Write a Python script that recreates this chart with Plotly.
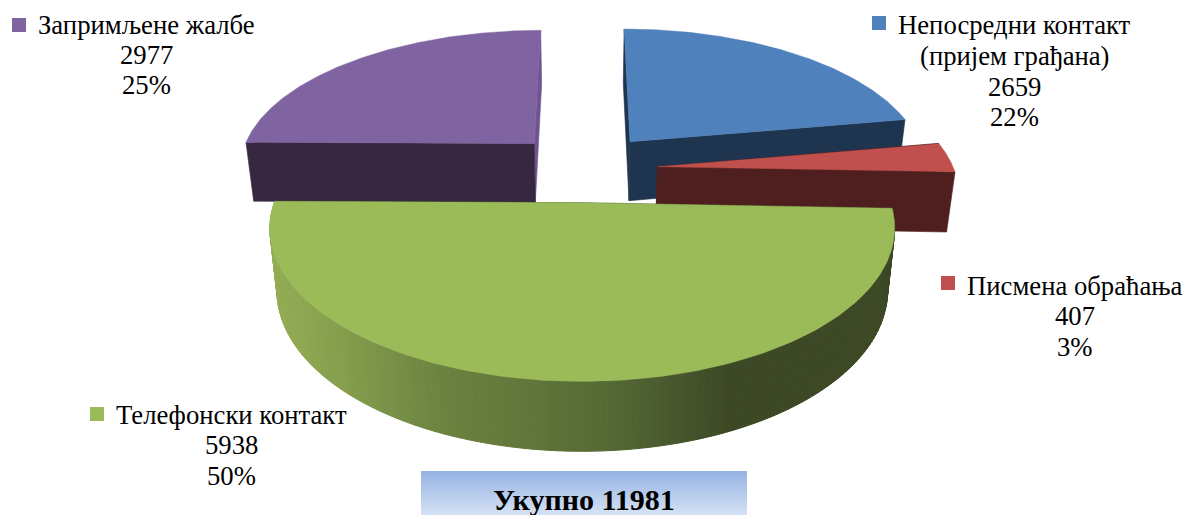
import numpy as np
import plotly.graph_objects as go

# ---- data ----
categories = ["Непосредни контакт|(пријем грађана)", "Писмена обраћања", "Телефонски контакт", "Запримљене жалбе"]
values = [2659, 407, 5938, 2977]
total_label = "Укупно"
top_colors = ["#4F81BD", "#C0504D", "#9BBB59", "#8064A2"]
side_colors = ["#1F344F", "#4F1F1F", "#3D4825", "#35283F"]
sliver_colors = ["#1F344F", "#4F1F1F", "#3D4825", "#6F5590"]

# ---- projection of the exploded 3-D pie ----
W, H = 1185, 515
CX, CY = 582.0, 169.0
A, B, P = 296.5, 138.0, 0.16
EXPLODE, DEPTH, BOTTOM_SCALE = 0.235, 60.0, 0.977
NUDGE = [(4.5, -3.0), (6.0, 0.0), (2.0, 0.0), (0.0, -3.0)]
FRONT_FACE = [-1, -1, -1, 0]

total = sum(values)
fracs = np.array(values) / total
edges = np.concatenate([[0], np.cumsum(fracs)]) * 2 * np.pi


def project(u, v, nudge, bottom=False):
    k = 1.0 / (1.0 - P * v)
    x = A * u * k
    y = B * v * k
    if bottom:
        x = x * BOTTOM_SCALE
        y = y * BOTTOM_SCALE + DEPTH * k
    return CX + x + nudge[0], CY + y + nudge[1]


def rim(t, off):
    return np.sin(t) + off[0], -np.cos(t) + off[1]


fig = go.Figure()


def poly(xs, ys, color, lw=0.6):
    fig.add_trace(go.Scatter(x=list(xs), y=list(ys), mode="lines", fill="toself", fillcolor=color,
                             line=dict(color=color, width=lw), hoverinfo="skip", showlegend=False))


def wall_color(x):
    stops_x = [270, 340, 440, 520, 600, 700, 730, 900]
    stops = np.array([[0x93, 0xAD, 0x55], [0x85, 0x9E, 0x4D], [0x6C, 0x82, 0x40], [0x62, 0x77, 0x3A],
                      [0x56, 0x6B, 0x35], [0x43, 0x51, 0x2A], [0x3D, 0x48, 0x25], [0x3D, 0x48, 0x25]])
    c = [np.interp(x, stops_x, stops[:, i]) for i in range(3)]
    return "rgb(%d,%d,%d)" % tuple(int(round(v)) for v in c)


def draw_slice(i):
    t0, t1 = edges[i], edges[i + 1]
    mid = (t0 + t1) / 2
    off = (EXPLODE * np.sin(mid), -EXPLODE * np.cos(mid))
    nd = NUDGE[i]
    t = np.linspace(t0, t1, 150)
    u, v = rim(t, off)
    xt, yt = project(u, v, nd)
    xb, yb = project(u, v, nd, True)
    ax, ay = project(off[0], off[1], nd)
    abx, aby = project(off[0], off[1], nd, True)

    # outer wall (only the front slice shows it)
    if i == 2:
        for j in range(len(t) - 1):
            poly([xt[j], xt[j + 1], xb[j + 1], xb[j], xt[j]],
                 [yt[j], yt[j + 1], yb[j + 1], yb[j], yt[j]],
                 wall_color((xt[j] + xt[j + 1]) / 2), 1)
    # radial faces: the side sliver first, then the front face
    front = FRONT_FACE[i]
    back = 0 if front == -1 else -1
    for idx, col in ((back, sliver_colors[i]), (front, side_colors[i])):
        poly([ax, xt[idx], xb[idx], abx, ax], [ay, yt[idx], yb[idx], aby, ay], col)
    # top face
    poly(np.r_[ax, xt, ax], np.r_[ay, yt, ay], top_colors[i], 0.4)


for i in (0, 3, 1, 2):
    draw_slice(i)

# ---- legend-like labels ----
FONT = "Liberation Serif"
SIZE = 26.7


def txt(x, y, s, size=SIZE, bold=False, anchor="center"):
    fig.add_annotation(x=x, y=y, text=("<b>%s</b>" % s) if bold else s, showarrow=False, xanchor=anchor,
                       yanchor="middle", font=dict(family=FONT, size=size, color="#000000"))


label_layout = {
    0: dict(center=1014.5, ys=[25, 56, 87, 117], square=(879, 23)),
    1: dict(center=1075, ys=[286, 316, 347], square=(948, 283)),
    2: dict(center=231.5, ys=[415, 445, 476], square=(97, 414)),
    3: dict(center=146, ys=[25, 55, 85], square=(19, 25)),
}
for i, cat in enumerate(categories):
    lay = label_layout[i]
    lines = cat.split("|") + [str(values[i]), "%d%%" % round(100 * values[i] / total)]
    for s, y in zip(lines, lay["ys"]):
        txt(lay["center"], y, s)
    fig.add_trace(go.Scatter(x=[lay["square"][0]], y=[lay["square"][1]], mode="markers", hoverinfo="skip",
                             showlegend=False, marker=dict(symbol="square", size=14, color=top_colors[i],
                                                           line=dict(width=0))))

# ---- total box with vertical gradient ----
box_x0, box_x1, box_y0, box_y1 = 421, 747, 471, 515
shapes = []
c0, c1 = np.array([0x95, 0xB3, 0xE3]), np.array([0xD6, 0xE1, 0xF3])
for y in range(box_y0, box_y1):
    f = (y - box_y0) / (box_y1 - box_y0 - 1)
    c = c0 + (c1 - c0) * f
    shapes.append(dict(type="rect", xref="x", yref="y", x0=box_x0, x1=box_x1, y0=y, y1=y + 1, layer="below",
                       line=dict(width=0), fillcolor="rgb(%d,%d,%d)" % tuple(int(round(v)) for v in c)))
txt(584, 499.5, "%s %d" % (total_label, total), size=30, bold=True)

fig.update_layout(width=W, height=H, margin=dict(l=0, r=0, t=0, b=0), paper_bgcolor="white", plot_bgcolor="white",
                  showlegend=False, shapes=shapes,
                  xaxis=dict(range=[0, W], visible=False, fixedrange=True),
                  yaxis=dict(range=[H, 0], visible=False, fixedrange=True))
fig.write_html("out.html", config=dict(displayModeBar=False),
               post_script="document.body.style.margin='0';document.body.style.overflow='hidden';")
